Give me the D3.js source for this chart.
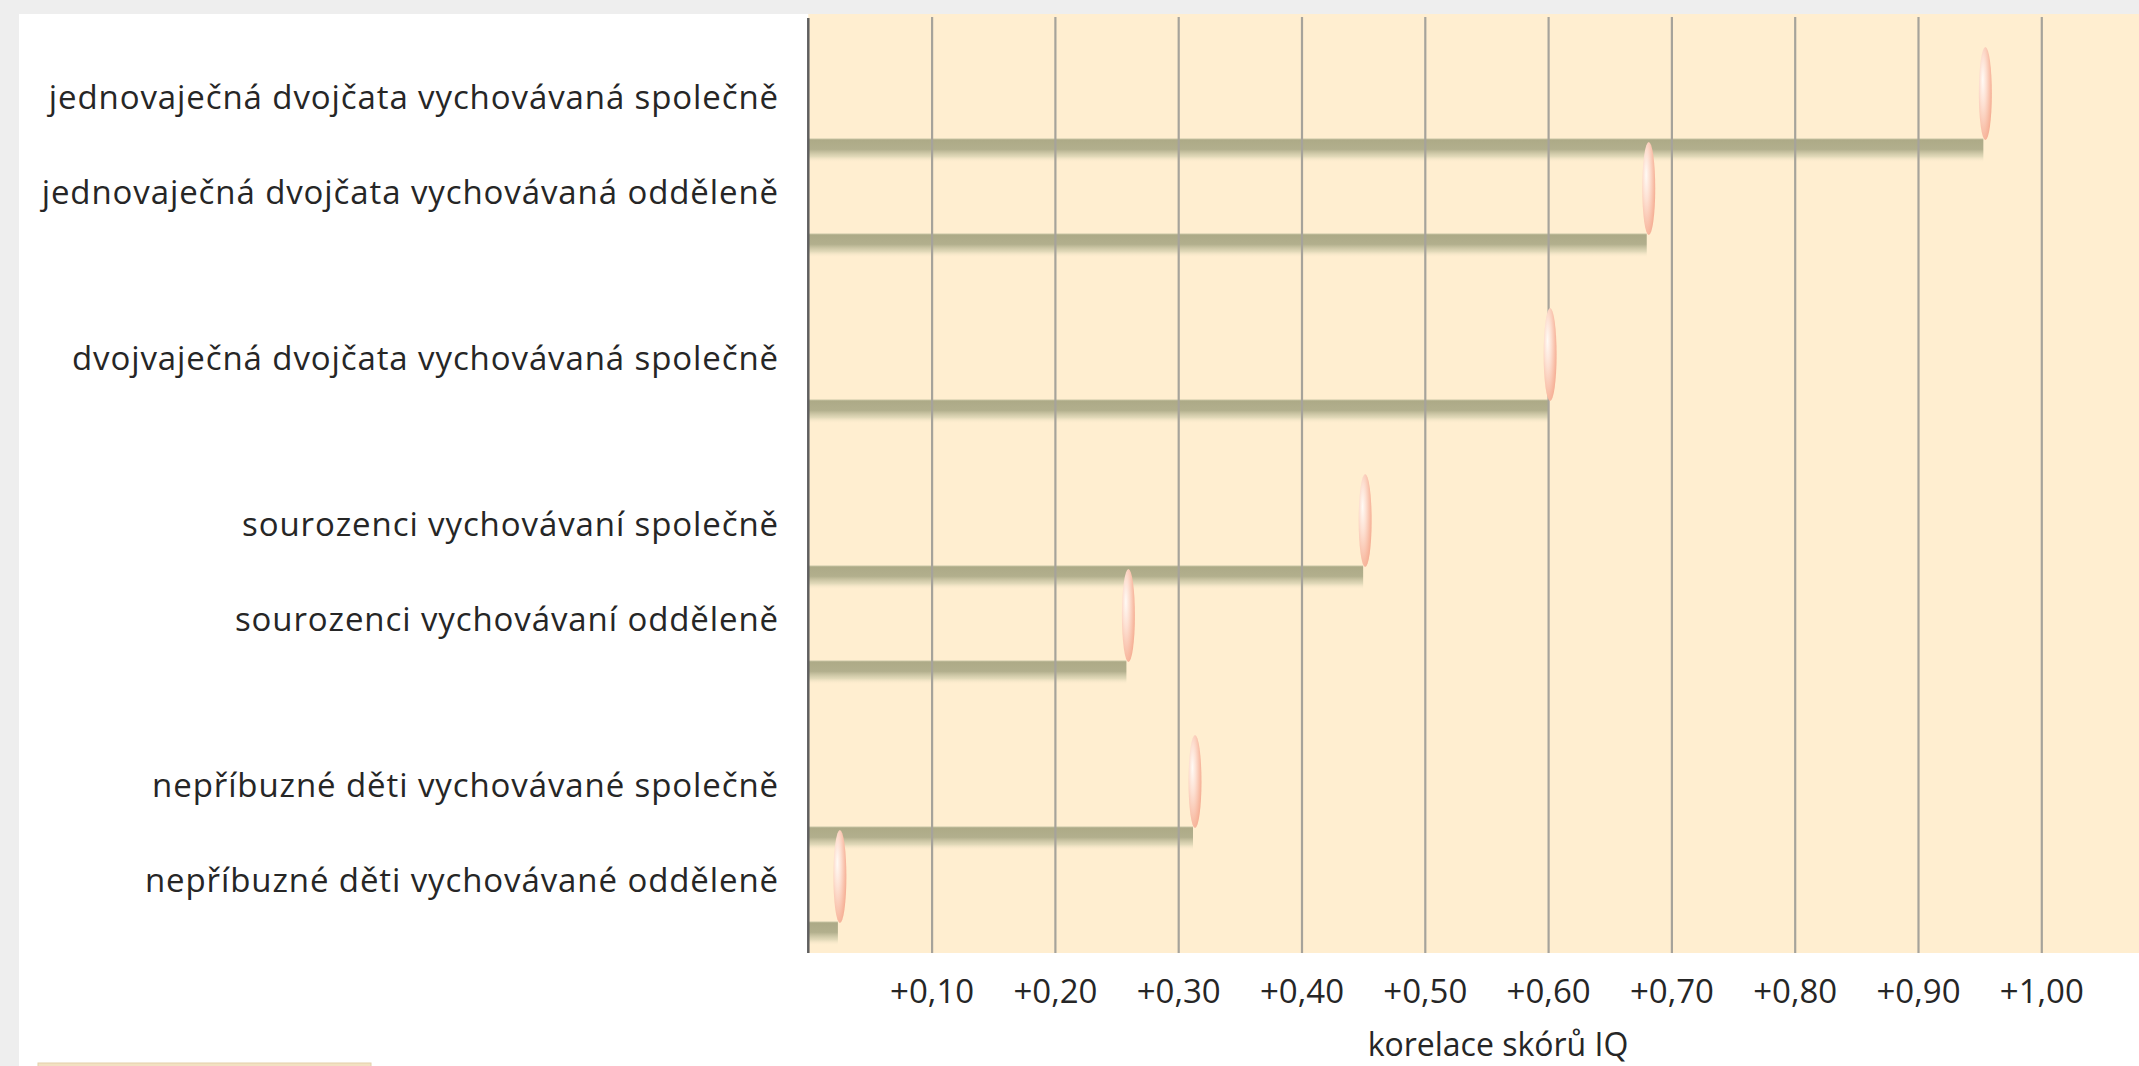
<!DOCTYPE html>
<html lang="cs">
<head>
<meta charset="utf-8">
<script src="https://cdn.jsdelivr.net/npm/d3@7"></script>
<style>
  html, body { margin: 0; padding: 0; background: #eeeeee; }
  svg { display: block; }
  text { font-family: "Open Sans", "Noto Sans", sans-serif; fill: #262626; }
</style>
</head>
<body>
<svg id="chart" width="2139" height="1066"></svg>
<script>
// Korelace skórů IQ podle příbuznosti a prostředí
const categories = [
  "jednovaječná dvojčata vychovávaná společně",
  "jednovaječná dvojčata vychovávaná odděleně",
  "dvojvaječná dvojčata vychovávaná společně",
  "sourozenci vychovávaní společně",
  "sourozenci vychovávaní odděleně",
  "nepříbuzné děti vychovávané společně",
  "nepříbuzné děti vychovávané odděleně"
];
// skupina příbuznosti, do které řádek patří (mezi skupinami je větší mezera)
const categoryGroup = [0, 0, 1, 2, 2, 3, 3];
const correlations = [0.953, 0.68, 0.60, 0.45, 0.258, 0.312, 0.024];
const tickValues = [0.1, 0.2, 0.3, 0.4, 0.5, 0.6, 0.7, 0.8, 0.9, 1.0];
const axisTitle = "korelace skórů IQ";

const W = 2139, H = 1066;
const plot = { left: 808.3, top: 14, right: W, bottom: 953 };

const svg = d3.select("#chart");
const defs = svg.append("defs");

// pruh: tmavší olivový horní okraj, který se směrem dolů rozplývá
const barGrad = defs.append("linearGradient")
  .attr("id", "barGrad").attr("x1", 0).attr("y1", 0).attr("x2", 0).attr("y2", 1);
[[0, "#c9c6a6", 1], [0.07, "#adaa87", 1], [0.45, "#b2af8d", 1], [0.75, "#d9d3b2", 0.8], [1, "#fdecd0", 0]]
  .forEach(([o, c, a]) => barGrad.append("stop").attr("offset", o).attr("stop-color", c).attr("stop-opacity", a));

// růžová elipsa s bílým odleskem
const capGrad = defs.append("radialGradient")
  .attr("id", "capGrad").attr("cx", 0.35).attr("cy", 0.4).attr("r", 0.75).attr("fx", 0.3).attr("fy", 0.35);
[[0, "#fffaf5"], [0.35, "#fde0d2"], [0.75, "#f8bba3"], [1, "#f3a68b"]]
  .forEach(([o, c]) => capGrad.append("stop").attr("offset", o).attr("stop-color", c));

// pozadí
svg.append("rect").attr("x", 0).attr("y", 0).attr("width", W).attr("height", H).attr("fill", "#eeeeee");
svg.append("rect").attr("x", 19).attr("y", 14).attr("width", W - 19).attr("height", H - 14).attr("fill", "#ffffff");
svg.append("rect").attr("x", plot.left).attr("y", plot.top)
  .attr("width", plot.right - plot.left).attr("height", plot.bottom - plot.top).attr("fill", "#ffeed0");

// měřítka
const x = d3.scaleLinear().domain([0, 1]).range([plot.left, plot.left + 1233]);
const groupGap = 71 / 95;
const slot = (i) => i + categoryGroup[i] * groupGap;
const y = d3.scaleLinear().domain([0, 1]).range([138.5, 138.5 + 95]);

const rows = categories.map((c, i) => ({ label: c, value: correlations[i], top: y(slot(i)) }));

// pruhy
const barH = 24;
svg.append("g").selectAll("rect").data(rows).join("rect")
  .attr("x", x(0)).attr("y", d => d.top)
  .attr("width", d => x(d.value) - x(0)).attr("height", barH)
  .attr("fill", "url(#barGrad)");

// mřížka a osa x
const czLocale = d3.formatLocale({ decimal: ",", thousands: " ", grouping: [3], currency: ["", " Kč"] });
const fmt = czLocale.format("+.2f");
const axis = d3.axisBottom(x).tickValues(tickValues).tickFormat(fmt)
  .tickSizeInner(-(plot.bottom - 17)).tickSizeOuter(0).tickPadding(27);
const gAxis = svg.append("g").attr("transform", `translate(0,${plot.bottom})`).call(axis);
gAxis.select(".domain").remove();
gAxis.selectAll(".tick line").attr("stroke", "#a6a39b").attr("stroke-width", 2.2);
gAxis.selectAll(".tick text").attr("font-size", 33).attr("fill", "#262626")
  .attr("font-family", "\"Open Sans\", sans-serif");

// svislá osa v nule
svg.append("line").attr("x1", x(0)).attr("x2", x(0)).attr("y1", 18).attr("y2", plot.bottom)
  .attr("stroke", "#5f5f5f").attr("stroke-width", 2.5);

// elipsy na koncích pruhů
const capRx = 6.5, capRy = 46.5;
svg.append("g").selectAll("ellipse").data(rows).join("ellipse")
  .attr("cx", d => x(d.value) + 2).attr("cy", d => d.top + 1.5 - capRy)
  .attr("rx", capRx).attr("ry", capRy)
  .attr("fill", "url(#capGrad)");

// popisky řádků
svg.append("g").selectAll("text").data(rows).join("text")
  .attr("x", 779).attr("y", d => d.top - 30)
  .attr("text-anchor", "end").attr("font-size", 33).attr("letter-spacing", 0.9)
  .text(d => d.label);

// název osy
svg.append("text").attr("x", 1498).attr("y", 1056).attr("text-anchor", "middle")
  .attr("font-size", 32).text(axisTitle);

// dekorativní lišta vlevo dole
svg.append("rect").attr("x", 38).attr("y", 1063).attr("width", 333).attr("height", 10)
  .attr("fill", "#f2e1c2").attr("stroke", "#e4d0aa").attr("stroke-width", 1);
</script>
</body>
</html>
